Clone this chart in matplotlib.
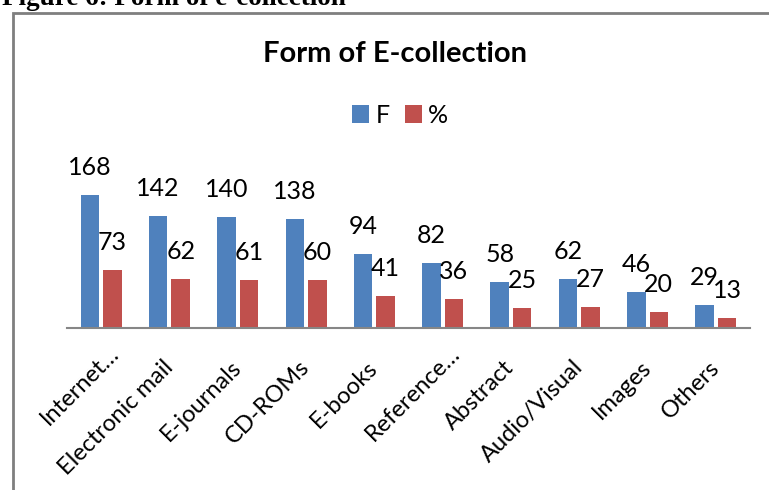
import numpy as np
import matplotlib
matplotlib.use("Agg")
import matplotlib.pyplot as plt
import matplotlib.transforms as mtransforms
from matplotlib.patches import Rectangle

# data
categories = ["Internet…", "Electronic mail", "E-journals", "CD-ROMs", "E-books",
              "Reference…", "Abstract", "Audio/Visual", "Images", "Others"]
freq = [168, 142, 140, 138, 94, 82, 58, 62, 46, 29]
percent = [73, 62, 61, 60, 41, 36, 25, 27, 20, 13]

blue = "#4F81BD"
red = "#C0504D"
plt.rcParams['font.family'] = ['Lato', 'DejaVu Sans']

fig = plt.figure(figsize=(7.69, 4.90), dpi=100)
ax = fig.add_axes([67 / 769, 162 / 490, 683 / 769, 142.6 / 490])

x = np.arange(len(categories))
w = 0.27
bars_f = ax.bar(x - 0.165, freq, w, color=blue, label="F")
bars_p = ax.bar(x + 0.165, percent, w, color=red, label="%")

# value labels above each bar
for bars in (bars_f, bars_p):
    for b in bars:
        ax.annotate(f"{int(b.get_height())}", (b.get_x() + b.get_width() / 2, b.get_height()),
                    xytext=(0, 14.4), textcoords="offset points",
                    ha="center", va="baseline", fontsize=18)

ax.set_xlim(-0.5, 9.5)
ax.set_ylim(0, 180)
ax.set_yticks([])
for s in ("top", "right", "left"):
    ax.spines[s].set_visible(False)
ax.spines["bottom"].set_color("#868686")
ax.spines["bottom"].set_linewidth(1.5)

ax.set_xticks(x)
ax.set_xticklabels(categories, rotation=45, ha="right", va="center",
                   rotation_mode="anchor", fontsize=17)
ax.tick_params(axis="x", length=0, pad=26)
# truncated labels sit a little further up the diagonal
shift = mtransforms.ScaledTranslation(0.14, 0.14, fig.dpi_scale_trans)
for lbl in ax.get_xticklabels():
    if lbl.get_text().endswith("…"):
        lbl.set_transform(lbl.get_transform() + shift)

fig.text(395 / 769, 1 - 54 / 490, "Form of E-collection", ha="center", va="center",
         fontsize=21, fontweight="bold")
fig.legend(handles=[bars_f, bars_p], labels=["F", "%"], loc="center",
           bbox_to_anchor=(400 / 769, 1 - 115 / 490), ncol=2, frameon=False,
           fontsize=18, handlelength=0.7, handleheight=0.7, handletextpad=0.25,
           columnspacing=0.6)

# chart border and cut-off figure caption
fig.add_artist(Rectangle((13 / 769, -0.1), 1.2, 1.1 - 13.5 / 490, transform=fig.transFigure,
                         fill=False, edgecolor="#7f7f7f", linewidth=2))
fig.text(0.002, 1 - 5 / 490, "Figure 6: Form of e-collection", ha="left", va="baseline",
         fontsize=19.5, fontweight="bold", family="Liberation Serif")

fig.savefig("out.png", dpi=100)
